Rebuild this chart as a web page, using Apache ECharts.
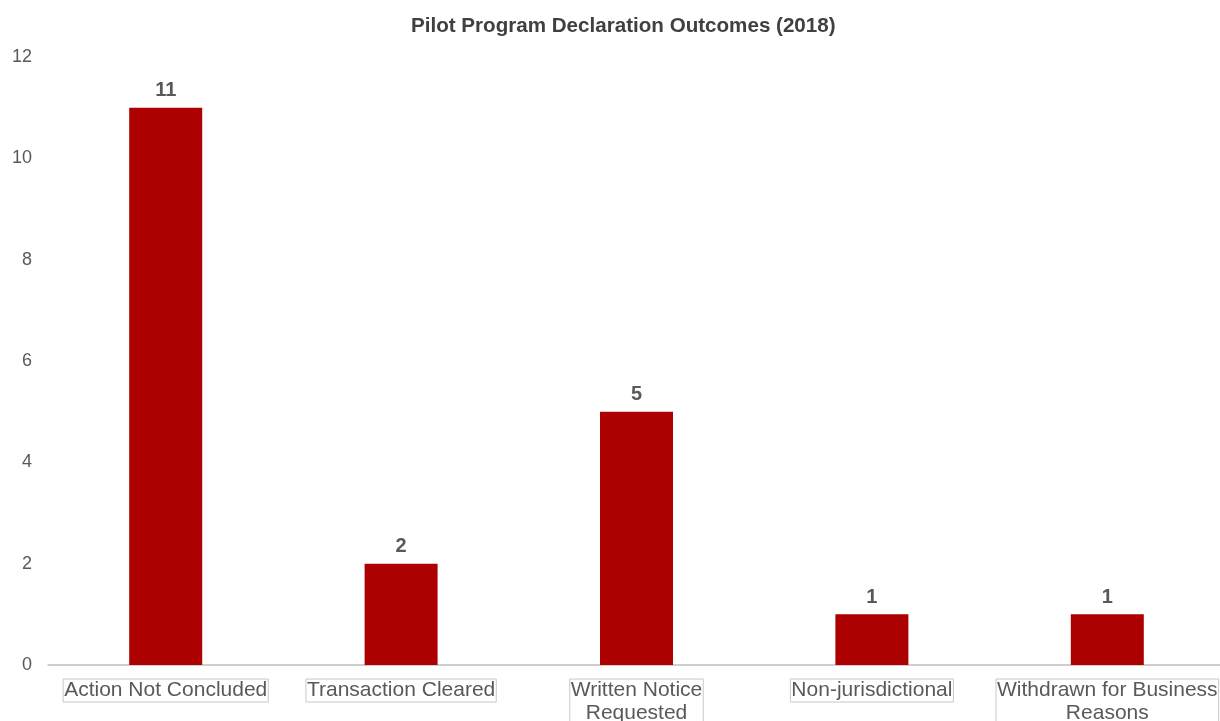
<!DOCTYPE html>
<html>
<head>
<meta charset="utf-8">
<script src="https://cdn.jsdelivr.net/npm/echarts@6/dist/echarts.min.js"></script>
<style>
  html, body { margin: 0; padding: 0; background: #fff; }
  #chart { width: 1220px; height: 721px; }
</style>
</head>
<body>
<div id="chart"></div>
<script>
// outcome categories (line breaks where the original wraps)
const categories = [
  'Action Not Concluded',
  'Transaction Cleared',
  'Written Notice\nRequested',
  'Non-jurisdictional',
  'Withdrawn for Business\nReasons'
];
const declarations = [11, 2, 5, 1, 1];
const yTicks = {min: 0, max: 12, interval: 2};

const chart = echarts.init(document.getElementById('chart'));
chart.setOption({
  animation: false,
  title: {
    text: 'Pilot Program Declaration Outcomes (2018)',
    left: 406,
    top: 11,
    textStyle: {
      fontFamily: 'Liberation Sans',
      fontSize: 20.6,
      fontWeight: 'bold',
      color: '#404040'
    }
  },
  grid: {left: 48, right: -5, top: 57, bottom: 56, outerBoundsMode: 'none'},
  xAxis: {
    type: 'category',
    data: categories,
    axisLine: {lineStyle: {color: '#bfbfbf', width: 1.5}},
    axisTick: {show: false},
    axisLabel: {
      interval: 0,
      margin: 14,
      fontFamily: 'Liberation Sans',
      fontSize: 21,
      lineHeight: 23,
      color: '#595959',
      borderColor: '#c8c8c8',
      borderWidth: 1,
      padding: [0, 1, 0, 1]
    }
  },
  yAxis: {
    type: 'value',
    min: yTicks.min,
    max: yTicks.max,
    interval: yTicks.interval,
    axisLine: {show: false},
    axisTick: {show: false},
    splitLine: {show: false},
    axisLabel: {
      margin: 16,
      fontFamily: 'Liberation Sans',
      fontSize: 18,
      color: '#595959'
    }
  },
  series: [{
    type: 'bar',
    data: declarations,
    barWidth: 73,
    itemStyle: {color: '#ad0000'},
    label: {
      show: true,
      position: 'top',
      distance: 7,
      fontFamily: 'Liberation Sans',
      fontSize: 20,
      fontWeight: 'bold',
      color: '#595959'
    }
  }]
});
</script>
</body>
</html>
